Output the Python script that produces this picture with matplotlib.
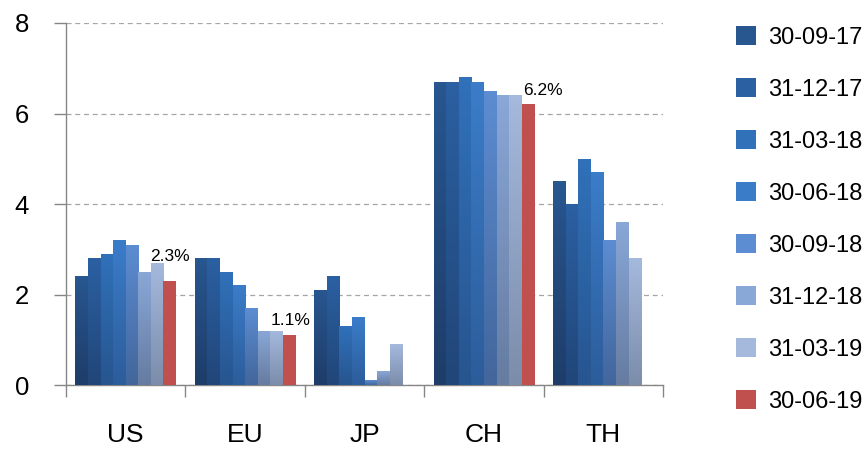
import numpy as np
import matplotlib
matplotlib.use("Agg")
import matplotlib.pyplot as plt
from matplotlib.colors import LinearSegmentedColormap
from matplotlib.patches import Patch

plt.rcParams['font.family'] = ['Liberation Sans', 'DejaVu Sans']

# data
regions = ["US", "EU", "JP", "CH", "TH"]
dates = ["30-09-17", "31-12-17", "31-03-18", "30-06-18",
         "30-09-18", "31-12-18", "31-03-19", "30-06-19"]
s_300917 = [2.4, 2.8, 2.1, 6.7, 4.5]
s_311217 = [2.8, 2.8, 2.4, 6.7, 4.0]
s_310318 = [2.9, 2.5, 1.3, 6.8, 5.0]
s_300618 = [3.2, 2.2, 1.5, 6.7, 4.7]
s_300918 = [3.1, 1.7, 0.1, 6.5, 3.2]
s_311218 = [2.5, 1.2, 0.3, 6.4, 3.6]
s_310319 = [2.7, 1.2, 0.9, 6.4, 2.8]
s_300619 = [2.3, 1.1, np.nan, 6.2, np.nan]
series = [s_300917, s_311217, s_310318, s_300618,
          s_300918, s_311218, s_310319, s_300619]

# (top colour, bottom colour) per series
grads = [("#28568f", "#1e3d69"),
         ("#2b60a2", "#214679"),
         ("#3071ba", "#27558f"),
         ("#3b7cc9", "#2c5d9b"),
         ("#5c8cd1", "#43669c"),
         ("#89a7d7", "#667ca1"),
         ("#a5b9dd", "#7c8dab"),
         ("#c0504d", "#c0504d")]

fig = plt.figure(figsize=(8.65, 4.5), dpi=100)
ax = fig.add_axes([0.0763, 0.1444, 0.6902, 0.8045])

w = 0.1055
x = np.arange(len(regions))
grey = "#868686"

for i, vals in enumerate(series):
    top, bot = grads[i]
    cmap = LinearSegmentedColormap.from_list("g%d" % i, [bot, top])
    bars = ax.bar(x + (i - 3.5) * w, vals, w, color=top, linewidth=0, zorder=2)
    for b, v in zip(bars, vals):
        if np.isnan(v):
            continue
        x0 = b.get_x()
        img = ax.imshow(np.linspace(0, 1, 64).reshape(-1, 1), cmap=cmap,
                        origin="lower", aspect="auto", zorder=3,
                        extent=[x0, x0 + w, 0, v])
        img.set_clip_path(b)

# data labels on the last series
lab_off = {"US": (0, 17), "EU": (1, 7), "CH": (15, 6)}
for j, r in enumerate(regions):
    v = s_300619[j]
    if np.isnan(v):
        continue
    dx, dy = lab_off[r]
    ax.annotate("%.1f%%" % v, (x[j] + 3.5 * w, v), xytext=(dx, dy),
                textcoords="offset pixels", ha="center", va="bottom",
                fontsize=12.5, zorder=5)

ax.set_xlim(-0.5, len(regions) - 0.5)
ax.set_ylim(0, 8)
ax.set_yticks([0, 2, 4, 6, 8])
ax.grid(axis="y", color="#a6a6a6", linestyle=(0, (4, 3)), linewidth=0.9, zorder=0)

ax.set_xticks(x)
ax.set_xticklabels(regions, fontsize=19)
ax.set_xticks(np.arange(len(regions) + 1) - 0.5, minor=True)
ax.tick_params(axis="x", which="major", length=0, pad=27.5)
ax.tick_params(axis="x", which="minor", length=8.6, color=grey, width=1)
ax.tick_params(axis="y", length=8.6, color=grey, width=1, labelsize=18.5, pad=18)

for s in ["top", "right"]:
    ax.spines[s].set_visible(False)
for s in ["left", "bottom"]:
    ax.spines[s].set_color(grey)
    ax.spines[s].set_linewidth(1)

handles = [Patch(facecolor=g[0], edgecolor="none") for g in grads]
fig.legend(handles, dates, loc="upper left", bbox_to_anchor=(0.851, 0.942),
           frameon=False, fontsize=17, handlelength=0.85, handleheight=0.85,
           handletextpad=0.5, labelspacing=1.245, borderpad=0, borderaxespad=0)

fig.savefig("out.png", dpi=100)
